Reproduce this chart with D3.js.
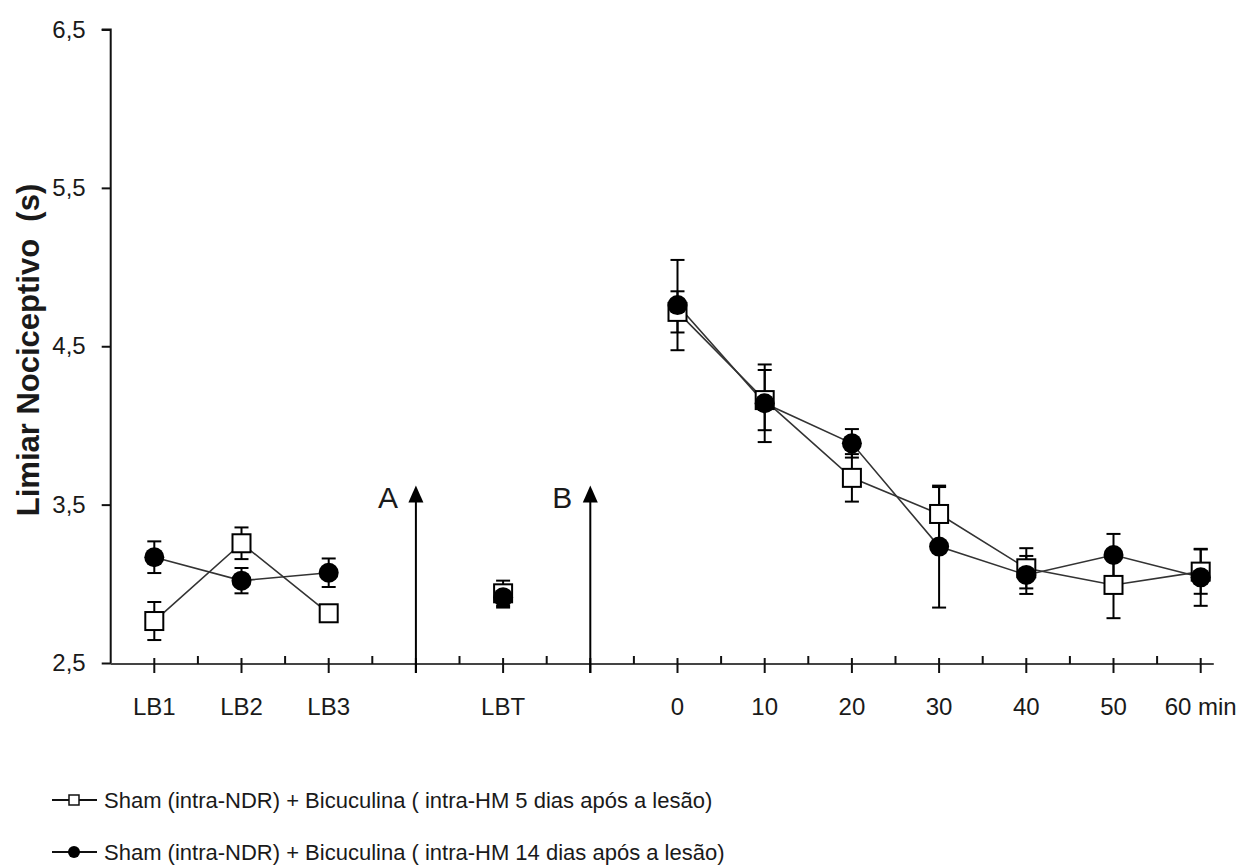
<!DOCTYPE html>
<html>
<head>
<meta charset="utf-8">
<script src="https://cdn.jsdelivr.net/npm/d3@7/dist/d3.min.js"></script>
<style>
  html, body { margin: 0; padding: 0; background: #fff; }
  svg { display: block; }
  text { font-family: Arial, 'Liberation Sans', sans-serif; fill: #1a1a1a; }
</style>
</head>
<body>
<div id="chart"></div>
<script>
// 横轴分组 (空字符串为注射箭头所在位置)
const tickLabels = ['LB1', 'LB2', 'LB3', '', 'LBT', '', '0', '10', '20', '30', '40', '50', '60 min']
const yTicks = [2.5, 3.5, 4.5, 5.5, 6.5]
// Sham + Bicuculina 5 dias
const values5 = [2.765, 3.256, 2.814, null, 2.94, null, 4.717, 4.16, 3.669, 3.441, 3.098, 2.993, 3.077]
const sem5 = [0.12, 0.1, 0.03, null, 0.08, null, 0.13, 0.19, 0.15, 0.17, 0.127, 0.21, 0.14]
// Sham + Bicuculina 14 dias
const values14 = [3.168, 3.02, 3.07, null, 2.915, null, 4.76, 4.14, 3.887, 3.235, 3.056, 3.182, 3.041]
const sem14 = [0.1, 0.08, 0.09, null, 0.065, null, 0.285, 0.245, 0.09, 0.385, 0.12, 0.133, 0.18]
// 箭头 A / B
const arrowSlots = [3, 5]
const arrowLabels = ['A', 'B']
const arrowTop = 3.62
const legendLabels = [
  'Sham (intra-NDR) + Bicuculina ( intra-HM 5 dias após a lesão)',
  'Sham (intra-NDR) + Bicuculina ( intra-HM 14 dias após a lesão)'
]

const width = 1242
const height = 866
const svg = d3.select('#chart').append('svg')
  .attr('width', width)
  .attr('height', height)

const x = d3.scaleLinear().domain([-0.5, 12.5]).range([110.7, 110.7 + 87.2 * 13])
const y = d3.scaleLinear().domain([2.5, 6.5]).range([663, 29.5])
const axisY = y(2.5) + 1

// y 轴
const yAxis = svg.append('g')
  .attr('transform', `translate(${x(-0.5)},0)`)
  .call(d3.axisLeft(y).tickValues(yTicks).tickSize(9).tickPadding(16)
    .tickFormat(d => d3.format('.1f')(d).replace('.', ',')))
yAxis.select('.domain').attr('stroke', '#111').attr('stroke-width', 2)
  .attr('d', `M-9,${y(6.5)}H0V${axisY}`)
yAxis.selectAll('.tick line').attr('stroke', '#111').attr('stroke-width', 2)
yAxis.selectAll('.tick text').attr('font-size', 24).attr('fill', '#1a1a1a')

// y 轴标题
svg.append('text')
  .attr('transform', `translate(39,${350}) rotate(-90)`)
  .attr('text-anchor', 'middle')
  .attr('font-size', 31)
  .attr('font-weight', 'bold')
  .style('white-space', 'pre')
  .text('Limiar Nociceptivo  (s)')

// x 轴
const xg = svg.append('g')
xg.append('line')
  .attr('x1', x(-0.5)).attr('x2', x(12.15))
  .attr('y1', axisY).attr('y2', axisY)
  .attr('stroke', '#444').attr('stroke-width', 2)
xg.selectAll('.major').data(d3.range(tickLabels.length))
  .join('line').attr('class', 'major')
  .attr('x1', d => x(d)).attr('x2', d => x(d))
  .attr('y1', axisY - 6).attr('y2', axisY + 9)
  .attr('stroke', '#111').attr('stroke-width', 2)
xg.selectAll('.minor').data(d3.range(tickLabels.length - 1))
  .join('line').attr('class', 'minor')
  .attr('x1', d => x(d + 0.5)).attr('x2', d => x(d + 0.5))
  .attr('y1', axisY - 8).attr('y2', axisY)
  .attr('stroke', '#111').attr('stroke-width', 2)
xg.selectAll('.xlabel').data(tickLabels)
  .join('text').attr('class', 'xlabel')
  .attr('x', (d, i) => x(i))
  .attr('y', 715)
  .attr('text-anchor', 'middle')
  .attr('font-size', 24)
  .text(d => d)

// 箭头
const tipY = y(arrowTop)
const arrows = svg.selectAll('.arrow').data(arrowSlots).join('g').attr('class', 'arrow')
arrows.append('line')
  .attr('x1', d => x(d)).attr('x2', d => x(d))
  .attr('y1', axisY + 9).attr('y2', tipY + 10)
  .attr('stroke', '#000').attr('stroke-width', 2)
arrows.append('path')
  .attr('d', d => `M${x(d) - 7.5},${tipY + 17}L${x(d)},${tipY}L${x(d) + 7.5},${tipY + 17}Z`)
  .attr('fill', '#000')
arrows.append('text')
  .attr('x', d => x(d) - 28)
  .attr('y', tipY + 22)
  .attr('text-anchor', 'middle')
  .attr('font-size', 30)
  .text((d, i) => arrowLabels[i])

// 数据
const series = [
  { values: values5, sem: sem5, shape: 'square' },
  { values: values14, sem: sem14, shape: 'circle' }
]
const line = d3.line()
  .defined(d => d.v != null)
  .x(d => x(d.i))
  .y(d => y(d.v))
const points = s => s.values.map((v, i) => ({ v, i, e: s.sem[i] })).filter(d => d.v != null)

series.forEach(s => {
  svg.append('path')
    .datum(s.values.map((v, i) => ({ v, i })))
    .attr('d', line)
    .attr('fill', 'none')
    .attr('stroke', '#333')
    .attr('stroke-width', 1.6)
})

// 误差线
series.forEach(s => {
  const g = svg.append('g').attr('stroke', '#000').attr('stroke-width', 2)
  const pts = points(s)
  g.selectAll('.eb').data(pts).join('line')
    .attr('x1', d => x(d.i)).attr('x2', d => x(d.i))
    .attr('y1', d => y(d.v + d.e)).attr('y2', d => y(d.v - d.e))
  g.selectAll('.capT').data(pts).join('line')
    .attr('x1', d => x(d.i) - 7).attr('x2', d => x(d.i) + 7)
    .attr('y1', d => y(d.v + d.e)).attr('y2', d => y(d.v + d.e))
  g.selectAll('.capB').data(pts).join('line')
    .attr('x1', d => x(d.i) - 7).attr('x2', d => x(d.i) + 7)
    .attr('y1', d => y(d.v - d.e)).attr('y2', d => y(d.v - d.e))
})

// 标记点
svg.selectAll('.sq').data(points(series[0])).join('rect')
  .attr('x', d => x(d.i) - 9).attr('y', d => y(d.v) - 9)
  .attr('width', 18).attr('height', 18)
  .attr('fill', '#fff').attr('stroke', '#000').attr('stroke-width', 2)
svg.selectAll('.ci').data(points(series[1])).join('circle')
  .attr('cx', d => x(d.i)).attr('cy', d => y(d.v))
  .attr('r', 10)
  .attr('fill', '#000')

// 图例
const legend = svg.selectAll('.legend').data(legendLabels).join('g')
  .attr('class', 'legend')
  .attr('transform', (d, i) => `translate(0,${800 + i * 52})`)
legend.append('line')
  .attr('x1', 52).attr('x2', 97)
  .attr('stroke', '#111').attr('stroke-width', 2)
legend.filter((d, i) => i === 0).append('rect')
  .attr('x', 69).attr('y', -5).attr('width', 10).attr('height', 10)
  .attr('fill', '#fff').attr('stroke', '#111').attr('stroke-width', 1.5)
legend.filter((d, i) => i === 1).append('circle')
  .attr('cx', 74).attr('r', 6).attr('fill', '#000')
legend.append('text')
  .attr('x', 104).attr('y', 8)
  .attr('font-size', 22)
  .text(d => d)
</script>
</body>
</html>
